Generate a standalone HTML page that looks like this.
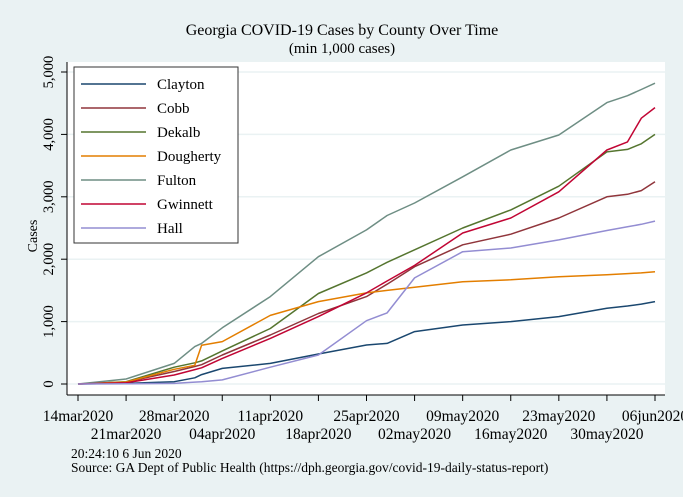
<!DOCTYPE html>
<html><head><meta charset="utf-8"><style>
html,body{margin:0;padding:0;background:#eaf2f3;}
svg{display:block;font-family:"Liberation Serif",serif;}
</style></head><body>
<svg id="chart" width="683" height="497" viewBox="0 0 683 497">
<rect x="0" y="0" width="683" height="497" fill="#eaf2f3"/>
<text x="342" y="35" text-anchor="middle" font-size="16" fill="#000">Georgia COVID-19 Cases by County Over Time</text>
<text x="342" y="53" text-anchor="middle" font-size="15" fill="#000">(min 1,000 cases)</text>
<rect x="67" y="62" width="598" height="333" fill="#fff"/>
<g id="grid"></g>
<g id="series"></g>
<line x1="67" y1="62" x2="67" y2="395" stroke="#000" stroke-width="1"/>
<line x1="67" y1="395" x2="665" y2="395" stroke="#000" stroke-width="1"/>
<g id="yticks"></g>
<g id="xticks"></g>
<text transform="translate(37,236) rotate(-90)" text-anchor="middle" font-size="14">Cases</text>
<g id="legend"></g>
<text x="71" y="458" font-size="13.5">20:24:10   6 Jun 2020</text>
<text x="71" y="472" font-size="13.5">Source: GA Dept of Public Health (https://dph.georgia.gov/covid-19-daily-status-report)</text>
</svg>
<script>
const days = [0,7,14,17,18,21,28,35,42,45,49,56,63,70,77,80,82,84];
const seriesNames = ["Clayton","Cobb","Dekalb","Dougherty","Fulton","Gwinnett","Hall"];
const clayton   = [0,10,37,100,150,250,330,480,625,650,840,945,1000,1080,1215,1250,1280,1320];
const cobb      = [0,30,200,280,310,465,785,1130,1400,1600,1880,2230,2400,2660,3000,3040,3100,3240];
const dekalb    = [0,37,270,340,370,530,890,1450,1780,1950,2150,2500,2790,3170,3720,3760,3850,4000];
const dougherty = [0,32,235,300,620,680,1100,1320,1460,1500,1550,1640,1670,1720,1750,1770,1780,1800];
const fulton    = [0,80,330,600,650,900,1400,2040,2470,2700,2900,3320,3750,3990,4510,4620,4720,4820];
const gwinnett  = [0,20,145,230,260,410,730,1080,1460,1650,1900,2420,2660,3080,3750,3880,4260,4430];
const hall      = [0,5,10,30,35,65,270,465,1015,1140,1700,2120,2180,2310,2460,2520,2560,2610];
const yTicks = [0,1000,2000,3000,4000,5000];
const yTickLabels = ["0","1,000","2,000","3,000","4,000","5,000"];
const xTickDays = [0,7,14,21,28,35,42,49,56,63,70,77,84];
const xTickLabels = ["14mar2020","21mar2020","28mar2020","04apr2020","11apr2020","18apr2020","25apr2020","02may2020","09may2020","16may2020","23may2020","30may2020","06jun2020"];

const NS="http://www.w3.org/2000/svg";
const colors=["#1a476f","#90353b","#55752f","#e37e00","#6e8e84","#c10534","#938dd2"];
const allSeries=[clayton,cobb,dekalb,dougherty,fulton,gwinnett,hall];
const x0=78,x1=655,dMax=84,y0=384,yPer=0.0624;
function xS(d){return x0+(x1-x0)*d/dMax;}
function yS(v){return y0-v*yPer;}
function mk(tag,attrs,parent){const e=document.createElementNS(NS,tag);for(const k in attrs)e.setAttribute(k,attrs[k]);parent.appendChild(e);return e;}

const grid=document.getElementById('grid');
yTicks.forEach((t,i)=>{
  const l=mk('line',{x1:67,x2:665,y1:yS(t),y2:yS(t),stroke:'#eaf2f3','stroke-width':1.5},grid);
  
  
});
const yt=document.getElementById('yticks');
yTicks.forEach((t,i)=>{
  const l=mk('line',{x1:61,x2:67,y1:yS(t),y2:yS(t),stroke:'#000'},yt);
  
  
  const tx=mk('text',{transform:`translate(53,${yS(t)}) rotate(-90)`,'text-anchor':'middle','font-size':14.5},yt);
  tx.textContent=yTickLabels[i];
  
  
});
const xt=document.getElementById('xticks');
xTickDays.forEach((d,i)=>{
  const l=mk('line',{x1:xS(d),x2:xS(d),y1:395,y2:401,stroke:'#000'},xt);
  
  
  const tx=mk('text',{x:xS(d),y:(i%2===0?421:439),'text-anchor':'middle','font-size':15.5},xt);
  tx.textContent=xTickLabels[i];
  
  
});
const sg=document.getElementById('series');
allSeries.forEach((vals,si)=>{
  const pts=vals.map((v,i)=>xS(days[i]).toFixed(1)+','+yS(v).toFixed(1)).join(' ');
  const p=mk('polyline',{points:pts,fill:'none',stroke:colors[si],'stroke-width':1.5,'stroke-linejoin':'round'},sg);
  
  
});
const lg=document.getElementById('legend');
const box=mk('rect',{x:74,y:67,width:164,height:176,fill:'#fff',stroke:'#333','stroke-width':1},lg);


seriesNames.forEach((n,i)=>{
  const y=84+i*24;
  const l=mk('line',{x1:81,x2:146,y1:y,y2:y,stroke:colors[i],'stroke-width':1.5},lg);
  
  
  const t=mk('text',{x:157,y:y+5,'font-size':15},lg);
  t.textContent=n;
  
  
});
</script>
</body></html>
